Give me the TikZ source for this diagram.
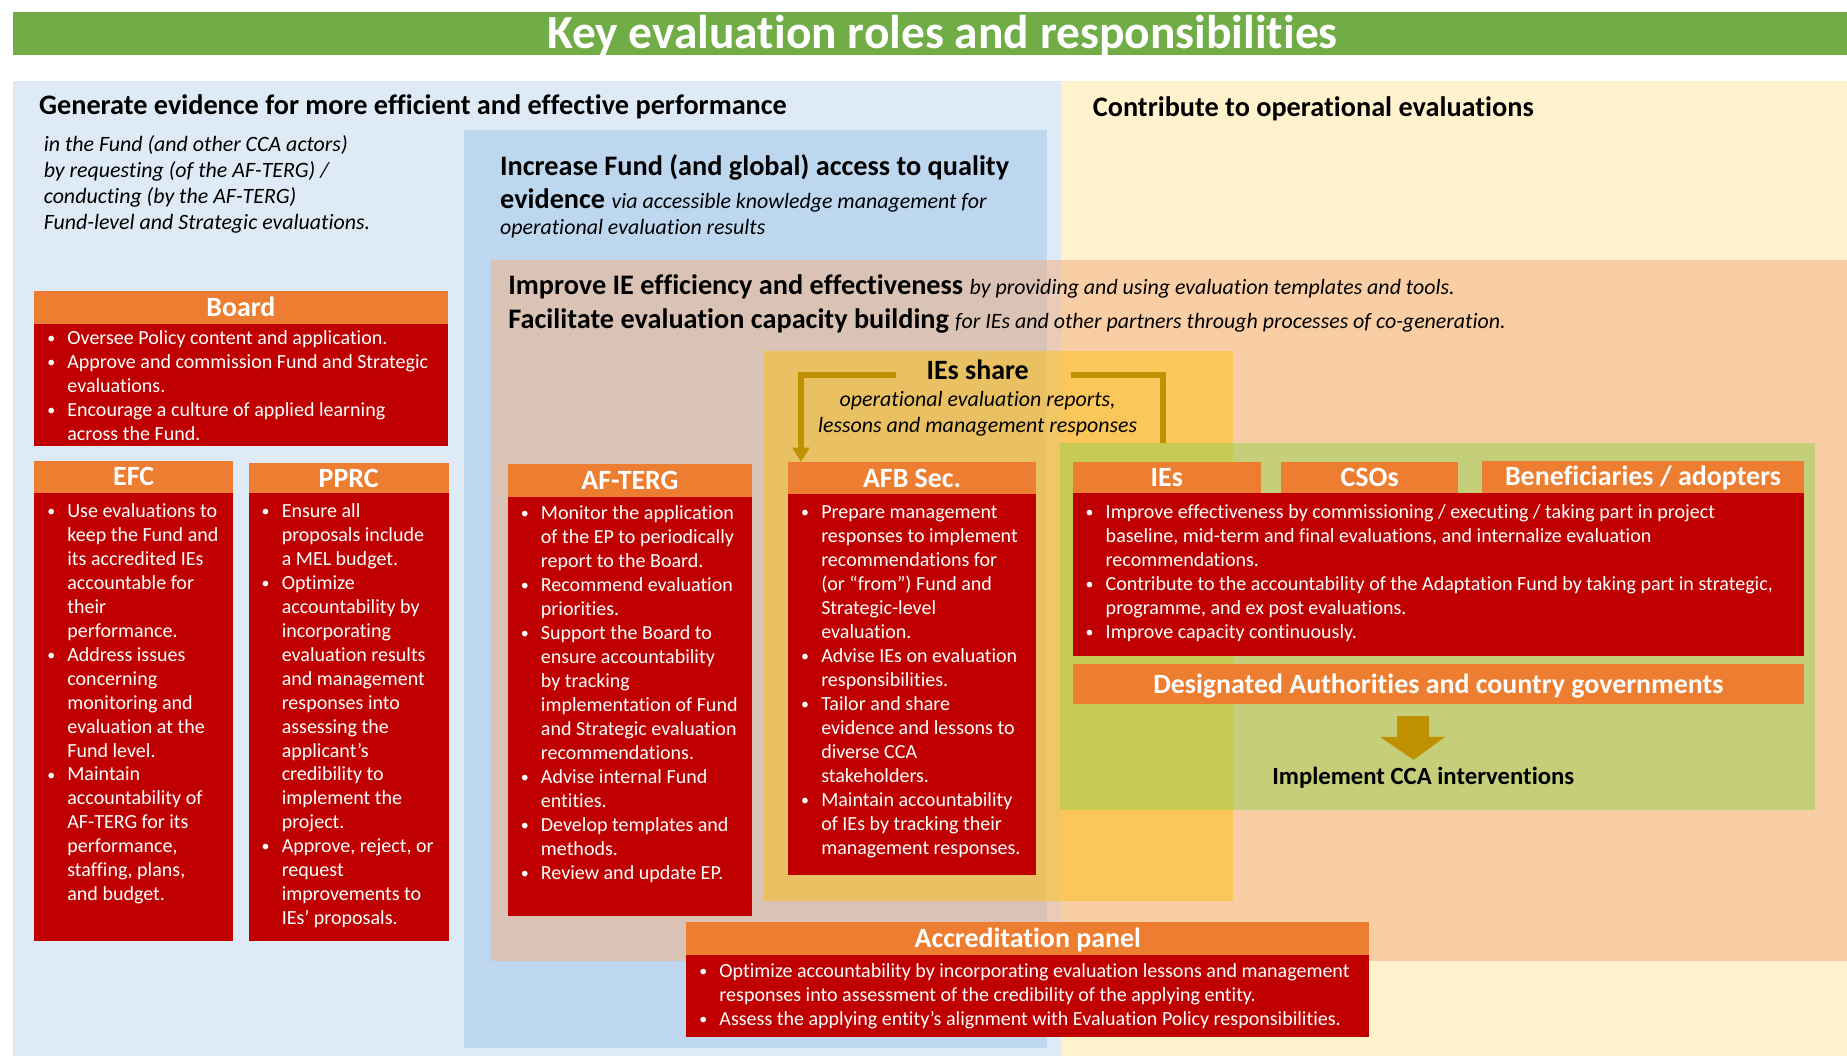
\documentclass[tikz,border=0pt]{standalone}
\usepackage{fontspec}
\setmainfont{Carlito}[Ligatures=NoCommon]
\usetikzlibrary{arrows.meta}
\definecolor{titlegreen}{HTML}{70AD47}
\definecolor{lightblue}{HTML}{DEEBF7}
\definecolor{lightyellow}{HTML}{FFF2CC}
\definecolor{midblue}{HTML}{BDD7EE}
\definecolor{peach}{HTML}{F4B183}
\definecolor{goldl}{HTML}{FFC000}
\definecolor{greenl}{HTML}{92D050}
\definecolor{hdrorange}{HTML}{ED7D31}
\definecolor{bodyred}{HTML}{C00000}
\definecolor{arrowgold}{HTML}{BF9000}
\newcommand\myBu{\makebox[17pt][l]{\raisebox{0.8pt}{\fontsize{13.5}{13.5}\selectfont •}}}
\newcommand\myIn{\hspace*{17pt}}
\newcommand\itpart{\mdseries\itshape\fontsize{18.6}{22}\selectfont}
\tikzset{
 hdrbox/.style={fill=hdrorange, draw=none, inner sep=0pt, text=white,
   font=\fontsize{23.7}{28}\selectfont\bfseries, text height=19.5pt, text depth=4pt},
 bodybox/.style={fill=bodyred, draw=none, inner sep=0pt},
 btxt/.style={anchor=north west, inner sep=0pt, align=left, text=white,
   font=\fontsize{17}{20.35}\selectfont},
 heading/.style={anchor=base west, inner sep=0pt, font=\fontsize{24}{28}\selectfont\bfseries},
 itxt/.style={anchor=base west, inner sep=0pt, font=\fontsize{18.6}{22}\selectfont\itshape},
 sharearrow/.style={draw=arrowgold, line width=5pt},
}
\newcommand\Head[6]{\node[hdrbox, minimum width={(#4-#2)*1pt}, minimum height={(#5-#3)*1pt}] (#1) at ({(#2+#4)/2},{(#3+#5)/2}) {#6};}
\newcommand\Body[5]{\node[bodybox, minimum width={(#4-#2)*1pt}, minimum height={(#5-#3)*1pt}] (#1) at ({(#2+#4)/2},{(#3+#5)/2}) {};}
\begin{document}
\begin{tikzpicture}[x=1pt,y=-1pt]
\useasboundingbox[fill=white] (0,0) rectangle (1568,896.5);
% title
\fill[titlegreen] (11,10) rectangle (1568,47);
\node[anchor=base, inner sep=0pt, text=white, font=\fontsize{40.3}{44}\selectfont\bfseries] (title) at (800,41.5) {Key evaluation roles and responsibilities};
% panels
\fill[lightblue] (11,69) rectangle (901,896.5);
\fill[lightyellow] (901,69) rectangle (1568,896.5);
\fill[midblue] (394,110) rectangle (889,890);
\fill[peach, fill opacity=0.54] (417,221) rectangle (1568,816);
\fill[goldl, fill opacity=0.45] (649,298) rectangle (1047,765);
\fill[greenl, fill opacity=0.5] (900,376) rectangle (1541,688);
% headings
\node[heading] (h1) at (33,97.6) {Generate evidence for more efficient and effective performance};
\node[anchor=north west, inner sep=0pt, align=left, font=\fontsize{18.6}{22.2}\selectfont\itshape] (h1i) at (37,112.5)
 {\strut in the Fund (and other CCA actors)\\ by requesting (of the AF-TERG) /\\ conducting (by the AF-TERG)\\ Fund-level and Strategic evaluations.};
\node[heading] (h2a) at (424.4,148.6) {Increase Fund (and global) access to quality};
\node[heading] (h2b) at (424.4,176.8) {evidence \itpart via accessible knowledge management for};
\node[itxt] (h2c) at (424.4,199.5) {operational evaluation results};
\node[heading] (h3) at (927.6,99) {Contribute to operational evaluations};
\node[heading] (h4a) at (431.4,250.4) {Improve IE efficiency and effectiveness \itpart by providing and using evaluation templates and tools.};
\node[heading] (h4b) at (431.4,278.6) {Facilitate evaluation capacity building \itpart for IEs and other partners through processes of co-generation.};
% IEs share
\node[anchor=base, inner sep=0pt, font=\fontsize{23.7}{28}\selectfont\bfseries] (share) at (830,322.5) {IEs share};
\node[anchor=base, inner sep=0pt, font=\fontsize{18.6}{22}\selectfont\itshape] (sharea) at (830,345.5) {operational evaluation reports,};
\node[anchor=base, inner sep=0pt, font=\fontsize{18.6}{22}\selectfont\itshape] (shareb) at (830,367.5) {lessons and management responses};
% Board
\Head{boardh}{29}{247}{380}{275}{Board}
\Body{boardb}{29}{275}{380}{378.6}
\node[btxt] (boardt) at (40,277.7) {\strut\myBu Oversee Policy content and application.\\
\myBu Approve and commission Fund and Strategic\\ \myIn evaluations.\\
\myBu Encourage a culture of applied learning\\ \myIn across the Fund.};
% EFC
\Head{efch}{29}{391}{198}{418.6}{EFC}
\Body{efcb}{29}{418.6}{198}{799}
\node[btxt] (efct) at (40,424.7) {\strut\myBu Use evaluations to\\ \myIn keep the Fund and\\ \myIn its accredited IEs\\ \myIn accountable for\\ \myIn their\\ \myIn performance.\\
\myBu Address issues\\ \myIn concerning\\ \myIn monitoring and\\ \myIn evaluation at the\\ \myIn Fund level.\\
\myBu Maintain\\ \myIn accountability of\\ \myIn AF-TERG for its\\ \myIn performance,\\ \myIn staffing, plans,\\ \myIn and budget.};
% PPRC
\Head{pprch}{211}{393}{381}{418.6}{PPRC}
\Body{pprcb}{211}{418.6}{381}{799}
\node[btxt] (pprct) at (222,424.7) {\strut\myBu Ensure all\\ \myIn proposals include\\ \myIn a MEL budget.\\
\myBu Optimize\\ \myIn accountability by\\ \myIn incorporating\\ \myIn evaluation results\\ \myIn and management\\ \myIn responses into\\ \myIn assessing the\\ \myIn applicant’s\\ \myIn credibility to\\ \myIn implement the\\ \myIn project.\\
\myBu Approve, reject, or\\ \myIn request\\ \myIn improvements to\\ \myIn IEs’ proposals.};
% AF-TERG
\Head{afth}{431}{393.6}{638.6}{422}{AF-TERG}
\Body{aftb}{431}{422}{638.6}{777.6}
\node[btxt] (aftt) at (442,426.7) {\strut\myBu Monitor the application\\ \myIn of the EP to periodically\\ \myIn report to the Board.\\
\myBu Recommend evaluation\\ \myIn priorities.\\
\myBu Support the Board to\\ \myIn ensure accountability\\ \myIn by tracking\\ \myIn implementation of Fund\\ \myIn and Strategic evaluation\\ \myIn recommendations.\\
\myBu Advise internal Fund\\ \myIn entities.\\
\myBu Develop templates and\\ \myIn methods.\\
\myBu Review and update EP.};
% AFB Sec.
\Head{afbh}{669}{392}{879.6}{419.6}{AFB Sec.}
\Body{afbb}{669}{419.6}{879.6}{743}
\node[btxt] (afbt) at (680,425.7) {\strut\myBu Prepare management\\ \myIn responses to implement\\ \myIn recommendations for\\ \myIn (or “from”) Fund and\\ \myIn Strategic-level\\ \myIn evaluation.\\
\myBu Advise IEs on evaluation\\ \myIn responsibilities.\\
\myBu Tailor and share\\ \myIn evidence and lessons to\\ \myIn diverse CCA\\ \myIn stakeholders.\\
\myBu Maintain accountability\\ \myIn of IEs by tracking their\\ \myIn management responses.};
% IEs / CSOs / Beneficiaries
\Head{iesh}{910.5}{392.6}{1070.6}{418.6}{IEs}
\Head{csosh}{1087.6}{392.6}{1238}{418.6}{CSOs}
\Head{benh}{1258}{391}{1531.6}{418.6}{Beneficiaries / adopters}
\Body{iesb}{910.5}{418.6}{1531.6}{556.8}
\node[btxt] (iest) at (921.5,425.7) {\strut\myBu Improve effectiveness by commissioning / executing / taking part in project\\ \myIn baseline, mid-term and final evaluations, and internalize evaluation\\ \myIn recommendations.\\
\myBu Contribute to the accountability of the Adaptation Fund by taking part in strategic,\\ \myIn programme, and ex post evaluations.\\
\myBu Improve capacity continuously.};
\Head{dah}{910.5}{563.7}{1531.6}{597.6}{Designated Authorities and country governments}
\fill[arrowgold] (1186,608) -- (1213,608) -- (1213,625.6) -- (1226.8,625.6) -- (1200,645) -- (1171.6,625.6) -- (1186,625.6) -- cycle;
\node[anchor=base, inner sep=0pt, font=\fontsize{21}{25}\selectfont\bfseries] (impl) at (1208.3,666.4) {Implement CCA interventions};
% Accreditation panel
\Head{acch}{582.6}{783}{1162.5}{810.7}{Accreditation panel}
\Body{accb}{582.6}{810.7}{1162.5}{880}
\node[btxt] (acct) at (593.6,815.7) {\strut\myBu Optimize accountability by incorporating evaluation lessons and management\\ \myIn responses into assessment of the credibility of the applying entity.\\
\myBu Assess the applying entity’s alignment with Evaluation Policy responsibilities.};
% share arrows
\coordinate (shareL) at (761,318.5);
\coordinate (shareR) at (909,318.5);
\coordinate (greenTop) at (987,376);
\coordinate (afbIn) at (680,392);
\draw[sharearrow] (greenTop) |- (shareR);
\draw[sharearrow, -{Triangle[length=12pt, width=14pt]}] (shareL) -| (afbIn);
\end{tikzpicture}
\end{document}
